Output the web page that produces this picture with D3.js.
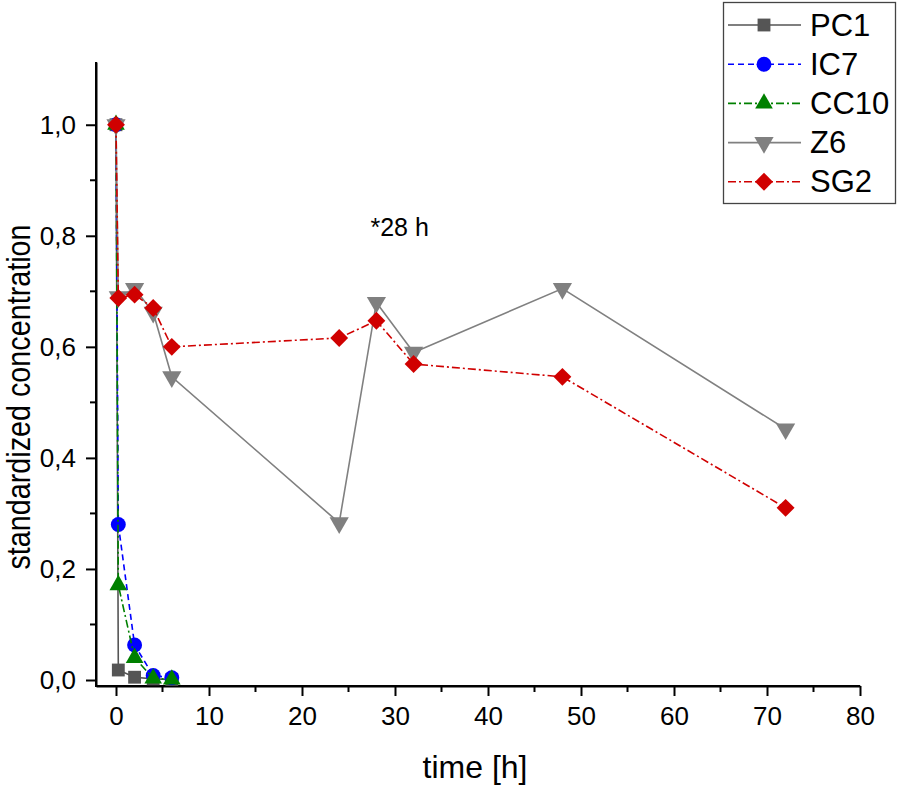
<!DOCTYPE html>
<html><head><meta charset="utf-8">
<script src="https://cdn.jsdelivr.net/npm/d3@7/dist/d3.min.js"></script>
<style>body{margin:0;background:#fff}svg{display:block}text{font-family:"Liberation Sans",Arial,sans-serif}</style>
</head><body><svg id="c" width="898" height="785"></svg>
<script>
const times = [0, 0.25, 2, 4, 6];
const timesLong = [0, 0.25, 2, 4, 6, 24, 28, 32, 48, 72];
const pc1 = [1.0, 0.018, 0.005, 0.002, 0.001];
const ic7 = [1.0, 0.28, 0.063, 0.008, 0.004];
const cc10 = [1.0, 0.171, 0.040, 0.003, 0.001];
const z6 = [1.0, 0.69, 0.705, 0.662, 0.546, 0.283, 0.680, 0.590, 0.705, 0.452];
const sg2 = [1.0, 0.688, 0.694, 0.670, 0.600, 0.616, 0.647, 0.569, 0.546, 0.310];
const seriesNames = ["PC1", "IC7", "CC10", "Z6", "SG2"];
const xTicks = [0, 10, 20, 30, 40, 50, 60, 70, 80];
const yTicks = [0, 0.2, 0.4, 0.6, 0.8, 1.0];
const annotation = "*28 h";

const styles = {
  PC1: {color:"#555555", dash:null, sym:d3.symbolSquare, size:165, rot:0},
  IC7: {color:"#0000ff", dash:"6,4", sym:d3.symbolCircle, size:175, rot:0},
  CC10:{color:"#008000", dash:"8,3,2,3", sym:d3.symbolTriangle, size:135, rot:0},
  Z6:  {color:"#808080", dash:null, sym:d3.symbolTriangle, size:160, rot:180},
  SG2: {color:"#d00000", dash:"8,3,2,3", sym:d3.symbolSquare, size:160, rot:45}
};
const series = [
  {name:"PC1", x:times, y:pc1},
  {name:"IC7", x:times, y:ic7},
  {name:"CC10", x:times, y:cc10},
  {name:"Z6", x:timesLong, y:z6},
  {name:"SG2", x:timesLong, y:sg2}
];

const svg = d3.select("#c");
const L=96, R=860, T=62, B=686;
const x = d3.scaleLinear().domain([-2.15, 80]).range([L, R]);
const y = d3.scaleLinear().domain([-0.0108, 1.113]).range([B, T]);
const FONT = "'Liberation Sans',Arial,sans-serif";

// axes
const xAxis = d3.axisBottom(x).tickValues(xTicks).tickSize(10).tickSizeOuter(0).tickPadding(11).tickFormat(d3.format("d"));
const gx = svg.append("g").attr("transform",`translate(0,${B})`).call(xAxis);
const xMinor = d3.range(5, 80, 10);
gx.selectAll(".mn").data(xMinor).enter().append("line").attr("x1",d=>x(d)).attr("x2",d=>x(d)).attr("y1",0).attr("y2",6).attr("stroke","#000").attr("stroke-width",2);
const yAxis = d3.axisLeft(y).tickValues(yTicks).tickSize(10).tickSizeOuter(0).tickPadding(10).tickFormat(d=>d3.format(".1f")(d).replace(".",","));
const gy = svg.append("g").attr("transform",`translate(${L},0)`).call(yAxis);
gy.selectAll(".mn").data([0.1,0.3,0.5,0.7,0.9]).enter().append("line").attr("y1",d=>y(d)).attr("y2",d=>y(d)).attr("x1",0).attr("x2",-6).attr("stroke","#000").attr("stroke-width",2);
[gx,gy].forEach(g=>{
  g.select(".domain").attr("stroke","#000").attr("stroke-width",2);
  g.selectAll(".tick line").attr("stroke","#000").attr("stroke-width",2);
  g.selectAll(".tick text").attr("font-size",26).attr("fill","#000").style("font-family",FONT);
});
svg.append("line").attr("x1",L).attr("x2",L).attr("y1",T).attr("y2",B+1).attr("stroke","#000").attr("stroke-width",2);
svg.append("line").attr("x1",L-1).attr("x2",R).attr("y1",B).attr("y2",B).attr("stroke","#000").attr("stroke-width",2);

// series
series.forEach(s=>{
  const st = styles[s.name];
  const pts = s.x.map((t,i)=>[t, s.y[i]]);
  svg.append("path").datum(pts)
    .attr("d", d3.line().x(d=>x(d[0])).y(d=>y(d[1])))
    .attr("fill","none").attr("stroke",st.color).attr("stroke-width",1.6)
    .attr("stroke-dasharray", st.dash);
  svg.append("g").selectAll("path").data(pts).enter().append("path")
    .attr("d", d3.symbol().type(st.sym).size(st.size))
    .attr("transform", d=>`translate(${x(d[0])},${y(d[1])}) rotate(${st.rot})`)
    .attr("fill", st.color);
});

// annotation
svg.append("text").attr("x", x(30.5)).attr("y", y(0.8)).attr("text-anchor","middle")
  .attr("font-size",25).attr("fill","#000").text(annotation);

// axis titles
svg.append("text").attr("x",475).attr("y",778).attr("text-anchor","middle").attr("font-size",32).text("time [h]");
svg.append("text").attr("transform",`translate(30,397) rotate(-90)`).attr("text-anchor","middle")
  .attr("font-size",34).attr("textLength",345).attr("lengthAdjust","spacingAndGlyphs").text("standardized concentration");

// legend
const lg = svg.append("g");
lg.append("rect").attr("x",723.5).attr("y",2.5).attr("width",172).attr("height",201).attr("fill","#fff").attr("stroke","#444").attr("stroke-width",1.3);
seriesNames.forEach((n,i)=>{
  const st = styles[n];
  const cy = 25 + i*39.2;
  lg.append("line").attr("x1",728).attr("x2",801).attr("y1",cy).attr("y2",cy)
    .attr("stroke",st.color).attr("stroke-width",1.6).attr("stroke-dasharray",st.dash);
  lg.append("path").attr("d", d3.symbol().type(st.sym).size(st.size))
    .attr("transform",`translate(764,${cy}) rotate(${st.rot})`).attr("fill",st.color);
  lg.append("text").attr("x",810).attr("y",cy+10.5).attr("font-size",31).attr("fill","#000").text(n);
});
</script></body></html>
